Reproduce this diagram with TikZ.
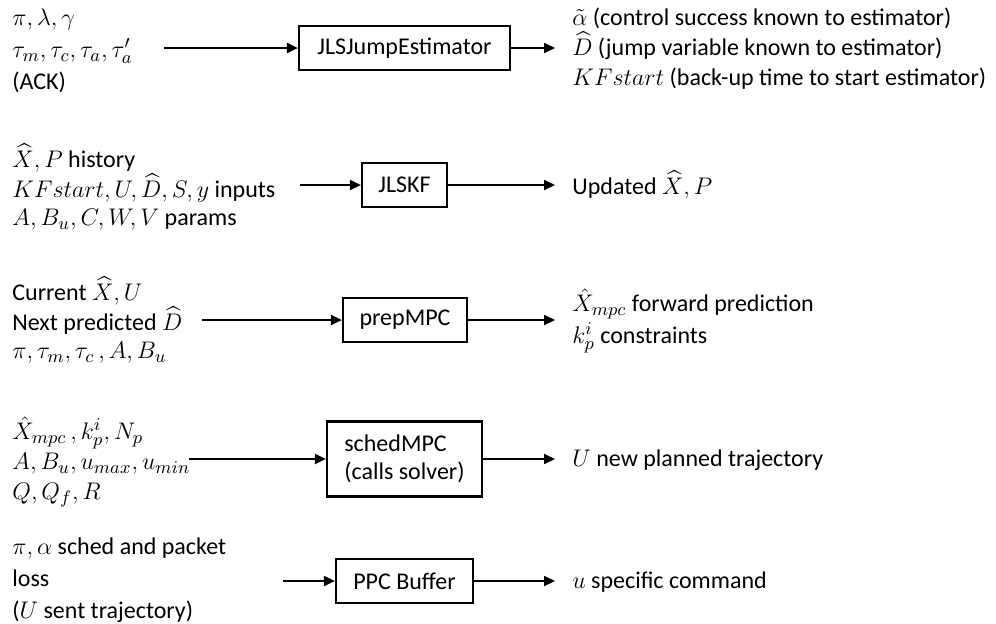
\documentclass[tikz,border=0pt]{standalone}
\usepackage{amsmath,amssymb}
\usepackage{fontspec}
\setmainfont{Carlito}
\DeclareMathSizes{12}{13}{9.5}{7.5}
\usepackage{tikz}
\usetikzlibrary{
  arrows.meta,
  positioning
}

\begin{document}
\begin{tikzpicture}[x=0.5pt, y=-0.5pt,
  every node/.style={font=\fontsize{12}{14}\selectfont},
  blk/.style={draw, line width=1.1pt, minimum height=22pt, inner sep=0pt, align=center},
  txt/.style={anchor=west, align=left, inner sep=0pt},
  flow/.style={-{Triangle[length=5.5pt,width=5pt]}, line width=1pt}]
  \useasboundingbox (0,0) rectangle (996,623);

  \node[blk, minimum width=105.5pt] (jump) at (404.5,48) {JLSJumpEstimator};
  \node[blk, minimum width=42.5pt] (kf) at (404.5,185) {JLSKF};
  \node[blk, minimum width=62pt] (prep) at (405,320) {prepMPC};
  \node[blk, minimum width=77.5pt, minimum height=37.5pt, align=left] (sched) at (404.5,459) {schedMPC\\(calls solver)};
  \node[blk, minimum width=68.5pt] (ppc) at (404.5,581) {PPC Buffer};

  \node[txt] (jumpin) at (12,51) {$\pi,\lambda,\gamma$\\[2pt]$\tau_m,\tau_c,\tau_a,\tau_a'$\\[2pt](ACK)};
  \node[txt] (kfin) at (12,187) {$\widehat{X},P$ history\\$KFstart,U,\widehat{D},S,y$ inputs\\$A,B_u,C,W,V$ params};
  \node[txt] (prepin) at (12,320) {Current $\widehat{X},U$\\Next predicted $\widehat{D}$\\$\pi,\tau_m,\tau_c\,,A,B_u$};
  \node[txt] (schedin) at (12,462) {$\hat{X}_{mpc}\,,k_p^i,N_p$\\[1pt]$A,B_u,u_{max},u_{min}$\\[1pt]$Q,Q_f,R$};
  \node[txt] (ppcin) at (12,580) {$\pi,\alpha$ sched and packet\\[2pt]loss\\[2pt]($U$ sent trajectory)};

  \node[txt] (jumpout) at (572,49) {$\tilde{\alpha}$ (control success known to estimator)\\[1pt]$\widehat{D}$ (jump variable known to estimator)\\[1pt]$KFstart$ (back-up time to start estimator)};
  \node[txt] (kfout) at (572,185) {Updated $\widehat{X},P$};
  \node[txt] (prepout) at (572,321) {$\hat{X}_{mpc}$ forward prediction\\[2pt]$k_p^i$ constraints};
  \node[txt] (schedout) at (572,460) {$U$ new planned trajectory};
  \node[txt] (ppcout) at (572,582) {$u$ specific command};

  \coordinate (s1) at (164,48);
  \coordinate (s2) at (300,185);
  \coordinate (s3) at (202,320);
  \coordinate (s4) at (189,459);
  \coordinate (s5) at (283,581);
  \coordinate (e1) at (555,48);
  \coordinate (e2) at (555,185);
  \coordinate (e3) at (555,320);
  \coordinate (e4) at (555,459);
  \coordinate (e5) at (555,581);

  \draw[flow] (s1) -- (jump);
  \draw[flow] (jump) -- (e1);
  \draw[flow] (s2) -- (kf);
  \draw[flow] (kf) -- (e2);
  \draw[flow] (s3) -- (prep);
  \draw[flow] (prep) -- (e3);
  \draw[flow] (s4) -- (sched);
  \draw[flow] (sched) -- (e4);
  \draw[flow] (s5) -- (ppc);
  \draw[flow] (ppc) -- (e5);
\end{tikzpicture}
\end{document}
